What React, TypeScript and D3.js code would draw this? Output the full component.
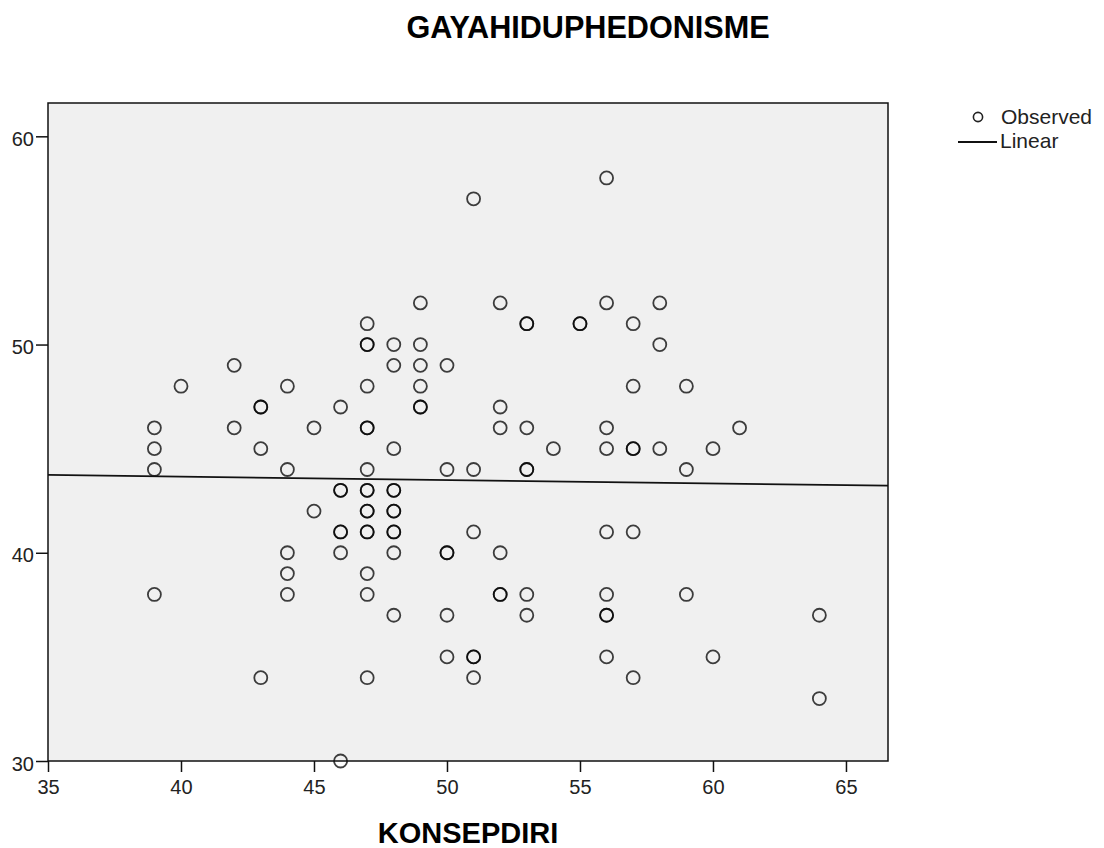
import React, { useEffect, useRef } from "react";
import * as d3 from "d3";

// KONSEPDIRI values, and the GAYAHIDUPHEDONISME values seen at each of them
const konsepLevels = [39, 40, 42, 43, 44, 45, 46, 47, 48, 49, 50, 51, 52, 53, 54, 55, 56, 57, 58, 59, 60, 61, 64];
const gayaByLevel = [
  [46, 45, 44, 38],
  [48],
  [49, 46],
  [47, 47, 45, 34],
  [48, 44, 40, 39, 38],
  [46, 42],
  [47, 43, 43, 41, 41, 40, 30],
  [51, 50, 50, 48, 46, 46, 44, 43, 43, 42, 42, 41, 41, 39, 38, 34],
  [50, 49, 45, 43, 43, 42, 42, 41, 41, 40, 37],
  [52, 50, 49, 48, 47, 47],
  [49, 44, 40, 40, 37, 35],
  [57, 44, 41, 35, 35, 34],
  [52, 47, 46, 40, 38, 38],
  [51, 51, 46, 44, 44, 38, 37],
  [45],
  [51, 51],
  [58, 52, 46, 45, 41, 38, 37, 37, 35],
  [51, 48, 45, 45, 41, 34],
  [52, 50, 45],
  [48, 44, 38],
  [45, 35],
  [46],
  [37, 33],
];
const xTicks = [35, 40, 45, 50, 55, 60, 65];
const yTicks = [30, 40, 50, 60];

const font = "'Liberation Sans', Arial, sans-serif";

function App() {
  const svgRef = useRef<SVGSVGElement>(null);

  useEffect(() => {
    const W = 1104;
    const H = 848;
    const left = 48, right = 888, top = 103, bottom = 761;

    const svg = d3.select(svgRef.current).attr("width", W).attr("height", H);
    svg.selectAll("*").remove();

    const points = konsepLevels.flatMap((x, i) => gayaByLevel[i].map((y) => ({ x, y })));

    const x = d3.scaleLinear().domain([35, 66.58]).range([left, right]);
    const y = d3.scaleLinear().domain([30, 61.6]).range([bottom, top]);

    // plot background
    svg.append("rect")
      .attr("x", left).attr("y", top)
      .attr("width", right - left).attr("height", bottom - top)
      .attr("fill", "#f0f0f0");

    // ordinary least squares fit
    const mx = d3.mean(points, (d) => d.x)!;
    const my = d3.mean(points, (d) => d.y)!;
    const sxy = d3.sum(points, (d) => (d.x - mx) * (d.y - my));
    const sxx = d3.sum(points, (d) => (d.x - mx) ** 2);
    const slope = sxy / sxx;
    const icpt = my - slope * mx;
    const [x0, x1] = x.domain();

    svg.append("g")
      .selectAll("circle")
      .data(points)
      .join("circle")
      .attr("cx", (d) => x(d.x))
      .attr("cy", (d) => y(d.y))
      .attr("r", 6.5)
      .attr("fill", "none")
      .attr("stroke", "#000")
      .attr("stroke-opacity", 0.75)
      .attr("stroke-width", 1.8);

    svg.append("line")
      .attr("x1", x(x0)).attr("y1", y(icpt + slope * x0))
      .attr("x2", x(x1)).attr("y2", y(icpt + slope * x1))
      .attr("stroke", "#111")
      .attr("stroke-width", 1.8);

    // frame
    svg.append("rect")
      .attr("x", left).attr("y", top)
      .attr("width", right - left).attr("height", bottom - top)
      .attr("fill", "none")
      .attr("stroke", "#111")
      .attr("stroke-width", 1.5);

    const xAxis = d3.axisBottom(x).tickValues(xTicks).tickSize(11).tickPadding(8);
    const yAxis = d3.axisLeft(y).tickValues(yTicks).tickSize(12).tickPadding(2);

    const gx = svg.append("g").attr("transform", `translate(0, ${bottom})`).call(xAxis);
    const gy = svg.append("g").attr("transform", `translate(${left}, 0)`).call(yAxis);
    [gx, gy].forEach((g) => {
      g.select(".domain").remove();
      g.selectAll("line").attr("stroke", "#111").attr("stroke-width", 1.5);
      g.selectAll("text")
        .attr("fill", "#222")
        .style("font-family", font)
        .style("font-size", "20px");
    });
    gy.selectAll("text").attr("dy", "0.45em");

    svg.append("text")
      .attr("x", 588).attr("y", 38)
      .attr("text-anchor", "middle")
      .style("font-family", font)
      .style("font-size", "30.6px")
      .style("font-weight", "bold")
      .text("GAYAHIDUPHEDONISME");

    svg.append("text")
      .attr("x", (left + right) / 2).attr("y", 843)
      .attr("text-anchor", "middle")
      .style("font-family", font)
      .style("font-size", "29px")
      .style("font-weight", "bold")
      .text("KONSEPDIRI");

    // legend
    const lg = svg.append("g");
    lg.append("circle")
      .attr("cx", 978).attr("cy", 117).attr("r", 4.6)
      .attr("fill", "none").attr("stroke", "#222").attr("stroke-width", 1.6);
    lg.append("text")
      .attr("x", 1001).attr("y", 124)
      .style("font-family", font).style("font-size", "21px")
      .attr("fill", "#222")
      .text("Observed");
    lg.append("line")
      .attr("x1", 958).attr("x2", 997).attr("y1", 142).attr("y2", 142)
      .attr("stroke", "#111").attr("stroke-width", 1.8);
    lg.append("text")
      .attr("x", 1000).attr("y", 148)
      .style("font-family", font).style("font-size", "21px")
      .attr("fill", "#222")
      .text("Linear");
  }, []);

  return <svg ref={svgRef} style={{ position: "absolute", left: 0, top: 0 }}></svg>;
}

export default App;
